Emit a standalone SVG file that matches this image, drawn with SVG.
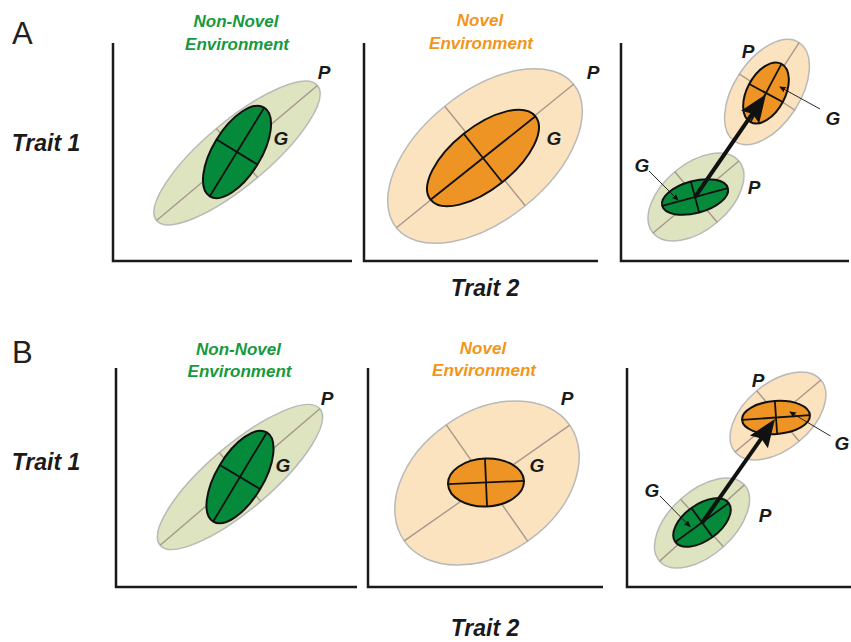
<svg xmlns="http://www.w3.org/2000/svg" width="851" height="642" viewBox="0 0 851 642">
<defs>
<style>
.ax{stroke:#1a1a1a;stroke-width:2.5;fill:none}
.pg{fill:#dde4bf;stroke:#b9b9b9;stroke-width:1.5}
.po{fill:#fbe3bf;stroke:#b9b9b9;stroke-width:1.5}
.pl{stroke:#a8988c;stroke-width:1.4}
.gg{fill:#058a3c;stroke:#111;stroke-width:2}
.go{fill:#ee9425;stroke:#111;stroke-width:2}
.gl{stroke:#111;stroke-width:1.8}
.t{font-family:"Liberation Sans",Arial,sans-serif;font-weight:bold;font-style:italic;text-anchor:middle;fill:#1a1a1a}
.lab{font-size:19px}
.tr{font-size:23px}
.tg{font-size:17px;fill:#169a3d}
.to{font-size:17px;fill:#f39519}
.pan{font-family:"Liberation Sans",Arial,sans-serif;font-size:31px;fill:#231f20}
.big{stroke:#111;stroke-width:4;fill:none}
.ptr{stroke:#111;stroke-width:0.9;fill:none}
</style>
<marker id="bigHead" viewBox="0 0 30 24" markerUnits="userSpaceOnUse" markerWidth="30" markerHeight="24" refX="16" refY="12" orient="auto">
<path d="M28,12 L0,1 L4,12 L0,23 Z" fill="#111"/>
</marker>
<marker id="smallHead" viewBox="0 0 7 6" markerUnits="userSpaceOnUse" markerWidth="7" markerHeight="6" refX="6" refY="3" orient="auto">
<path d="M7,3 L0,0 L1.2,3 L0,6 Z" fill="#111"/>
</marker>
</defs>
<rect width="851" height="642" fill="#fff"/>

<!-- Panel letters and axis labels -->
<text class="pan" x="12" y="44">A</text>
<text class="pan" x="12" y="363">B</text>
<text class="t tr" x="46" y="151">Trait 1</text>
<text class="t tr" x="46" y="470">Trait 1</text>
<text class="t tr" x="485" y="296">Trait 2</text>
<text class="t tr" x="485" y="636">Trait 2</text>

<!-- Titles -->
<text class="t tg" x="236" y="27">Non-Novel</text>
<text class="t tg" x="237" y="49.5">Environment</text>
<text class="t to" x="480" y="26">Novel</text>
<text class="t to" x="481" y="48.5">Environment</text>
<text class="t tg" x="238.5" y="354.5">Non-Novel</text>
<text class="t tg" x="239.5" y="376.5">Environment</text>
<text class="t to" x="483" y="354">Novel</text>
<text class="t to" x="484" y="376">Environment</text>

<!-- Axes -->
<g id="axes">
<path class="ax" d="M113,43 V261 H352"/>
<path class="ax" d="M364,43 V261 H598"/>
<path class="ax" d="M621,43 V261 H849"/>
<path class="ax" d="M116,368 V587 H357"/>
<path class="ax" d="M368,368 V587 H603"/>
<path class="ax" d="M627,368 V587 H851"/>
</g>

<!-- A left -->
<g id="A1-P" transform="translate(237,153) rotate(-40)">
<ellipse class="pg" rx="105" ry="32"/><line class="pl" x1="-105" x2="105"/><line class="pl" y1="-32" y2="32"/>
</g>
<g id="A1-G" transform="translate(237,152) rotate(-58.5)">
<ellipse class="gg" rx="52" ry="24"/><line class="gl" x1="-52" x2="52"/><line class="gl" y1="-24" y2="24"/>
</g>
<text class="t lab" x="324" y="79">P</text>
<text class="t lab" x="281" y="145">G</text>

<!-- A middle -->
<g id="A2-P" transform="translate(485,156) rotate(-39)">
<ellipse class="po" rx="114" ry="64"/><line class="pl" x1="-114" x2="114"/><line class="pl" y1="-64" y2="64"/>
</g>
<g id="A2-G" transform="translate(483,158) rotate(-38.5)">
<ellipse class="go" rx="67" ry="31"/><line class="gl" x1="-67" x2="67"/><line class="gl" y1="-31" y2="31"/>
</g>
<text class="t lab" x="593" y="79">P</text>
<text class="t lab" x="554" y="145">G</text>

<!-- A right -->
<g id="A3-Pgreen" transform="translate(696,197) rotate(-40)">
<ellipse class="pg" rx="56" ry="33"/><line class="pl" x1="-56" x2="56"/><line class="pl" y1="-33" y2="33"/>
</g>
<g id="A3-Porange" transform="translate(767,92) rotate(-57)">
<ellipse class="po" rx="59" ry="33"/><line class="pl" x1="-59" x2="59"/><line class="pl" y1="-33" y2="33"/>
</g>
<g id="A3-Ggreen" transform="translate(695,197) rotate(-15)">
<ellipse class="gg" rx="34" ry="16"/><line class="gl" x1="-34" x2="34"/><line class="gl" y1="-16" y2="16"/>
</g>
<g id="A3-Gorange" transform="translate(766,93) rotate(-62)">
<ellipse class="go" rx="33" ry="19"/><line class="gl" x1="-33" x2="33"/><line class="gl" y1="-19" y2="19"/>
</g>
<text class="t lab" x="748" y="58">P</text>
<text class="t lab" x="833" y="125">G</text>
<text class="t lab" x="642" y="171.5">G</text>
<text class="t lab" x="754" y="194">P</text>

<!-- B left -->
<g id="B1-P" transform="translate(240,477) rotate(-40.5)">
<ellipse class="pg" rx="105" ry="32"/><line class="pl" x1="-105" x2="105"/><line class="pl" y1="-32" y2="32"/>
</g>
<g id="B1-G" transform="translate(240,477) rotate(-59)">
<ellipse class="gg" rx="52" ry="23.5"/><line class="gl" x1="-52" x2="52"/><line class="gl" y1="-23.5" y2="23.5"/>
</g>
<text class="t lab" x="327" y="405">P</text>
<text class="t lab" x="283" y="471.5">G</text>

<!-- B middle -->
<g id="B2-P" transform="translate(487,483) rotate(-35)">
<ellipse class="po" rx="101" ry="71"/><line class="pl" x1="-101" x2="101"/><line class="pl" y1="-71" y2="71"/>
</g>
<g id="B2-G" transform="translate(486,482.5) rotate(-2.5)">
<ellipse class="go" rx="38" ry="24"/><line class="gl" x1="-38" x2="38"/><line class="gl" y1="-24" y2="24"/>
</g>
<text class="t lab" x="567" y="405">P</text>
<text class="t lab" x="537" y="471.5">G</text>

<!-- B right -->
<g id="B3-Pgreen" transform="translate(702,523) rotate(-42)">
<ellipse class="pg" rx="57" ry="32"/><line class="pl" x1="-57" x2="57"/><line class="pl" y1="-32" y2="32"/>
</g>
<g id="B3-Porange" transform="translate(778,416) rotate(-40)">
<ellipse class="po" rx="56" ry="33"/><line class="pl" x1="-56" x2="56"/><line class="pl" y1="-33" y2="33"/>
</g>
<g id="B3-Ggreen" transform="translate(702,522.5) rotate(-36)">
<ellipse class="gg" rx="33" ry="18"/><line class="gl" x1="-33" x2="33"/><line class="gl" y1="-18" y2="18"/>
</g>
<g id="B3-Gorange" transform="translate(776,417.5) rotate(-4)">
<ellipse class="go" rx="34" ry="16.5"/><line class="gl" x1="-34" x2="34"/><line class="gl" y1="-16.5" y2="16.5"/>
</g>
<text class="t lab" x="758" y="386.5">P</text>
<text class="t lab" x="842" y="450">G</text>
<text class="t lab" x="652" y="496.5">G</text>
<text class="t lab" x="765" y="521.5">P</text>

<!-- Connectors -->
<g id="connectors">
<line class="big" x1="695" y1="197" x2="759.2" y2="103.9" marker-end="url(#bigHead)"/>
<line class="big" x1="702" y1="523" x2="768.1" y2="428.8" marker-end="url(#bigHead)"/>
<line class="ptr" x1="820" y1="109" x2="780" y2="87" marker-end="url(#smallHead)"/>
<line class="ptr" x1="649" y1="171" x2="678" y2="200" marker-end="url(#smallHead)"/>
<line class="ptr" x1="830.5" y1="436" x2="790" y2="412" marker-end="url(#smallHead)"/>
<line class="ptr" x1="660" y1="496" x2="690" y2="526.5" marker-end="url(#smallHead)"/>
</g>
</svg>
